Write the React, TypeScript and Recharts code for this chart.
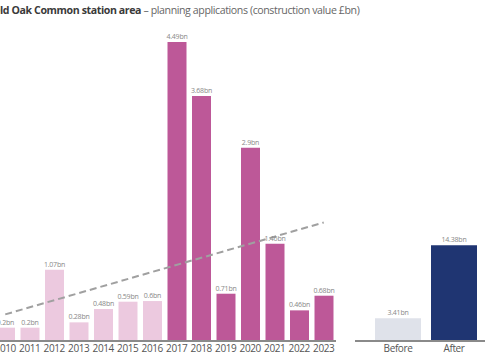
import React from "react";
import { ComposedChart, BarChart, Bar, Line, XAxis, YAxis, Cell, LabelList } from "recharts";

const years = ["2010", "2011", "2012", "2013", "2014", "2015", "2016", "2017", "2018", "2019", "2020", "2021", "2022", "2023"];
const values = [0.2, 0.2, 1.07, 0.28, 0.48, 0.59, 0.6, 4.49, 3.68, 0.71, 2.9, 1.46, 0.46, 0.68];
const labels = ["0.2bn", "0.2bn", "1.07bn", "0.28bn", "0.48bn", "0.59bn", "0.6bn", "4.49bn", "3.68bn", "0.71bn", "2.9bn", "1.46bn", "0.46bn", "0.68bn"];
// trend line end points
const trend = [0.4, null, null, null, null, null, null, null, null, null, null, null, null, 1.78];

const periods = ["Before", "After"];
const totals = [3.41, 14.38];
const totalLabels = ["3.41bn", "14.38bn"];

const LIGHT = "#ecc9df";
const DARK = "#bd5898";
const FONT = "'Open Sans', sans-serif";

const yearData = years.map((y, i) => ({ year: y, value: values[i], label: labels[i], trend: trend[i] }));
const periodData = periods.map((p, i) => ({ period: p, value: totals[i], label: totalLabels[i] }));

const tick = { fontSize: 10, fill: "#555", fontFamily: FONT, letterSpacing: -0.4 };
const valueLabel = { fontSize: 7, fill: "#888", fontFamily: FONT, letterSpacing: -0.2 };

export default function App() {
  return (
    <div style={{ position: "fixed", left: 0, top: 0, width: 485, height: 360, overflow: "hidden", background: "#fff" }}>
      <div style={{ position: "absolute", left: -8, top: 3, fontFamily: FONT, fontSize: 10.6, whiteSpace: "nowrap", letterSpacing: -0.4 }}>
        <span style={{ fontWeight: 700, color: "#3a3a3a" }}>Old Oak Common station area</span>
        <span style={{ color: "#666" }}> – planning applications (construction value £bn)</span>
      </div>
      <div style={{ position: "absolute", left: -7, top: 0 }}>
        <ComposedChart width={343} height={360} data={yearData} margin={{ top: 8, right: 0, bottom: 0, left: 0 }}>
          <XAxis dataKey="year" height={19} tickLine={false} tickSize={0} tickMargin={4} tick={tick}
            axisLine={{ stroke: "#8a8a8a", strokeWidth: 2 }} interval={0} />
          <YAxis hide domain={[0, 5]} />
          <Bar dataKey="value" barSize={19} isAnimationActive={false}>
            {yearData.map((d, i) => (
              <Cell key={d.year} fill={i < 7 ? LIGHT : DARK} />
            ))}
            <LabelList dataKey="label" position="top" offset={3} style={valueLabel} />
          </Bar>
          <Line dataKey="trend" connectNulls stroke="#a0a0a0" strokeWidth={2} strokeDasharray="7 4"
            dot={false} isAnimationActive={false} />
        </ComposedChart>
      </div>
      <div style={{ position: "absolute", left: 355, top: 0 }}>
        <BarChart width={150} height={360} data={periodData} margin={{ top: 8, right: 0, bottom: 0, left: 0 }}>
          <XAxis dataKey="period" height={19} tickLine={false} tickSize={0} tickMargin={4} tick={tick}
            axisLine={{ stroke: "#8a8a8a", strokeWidth: 2 }} padding={{ left: 15, right: 23 }} />
          <YAxis hide domain={[0, 50]} />
          <Bar dataKey="value" barSize={46} isAnimationActive={false}>
            <Cell fill="#dfe2ea" />
            <Cell fill="#1f3572" />
            <LabelList dataKey="label" position="top" offset={3} style={valueLabel} />
          </Bar>
        </BarChart>
      </div>
    </div>
  );
}
